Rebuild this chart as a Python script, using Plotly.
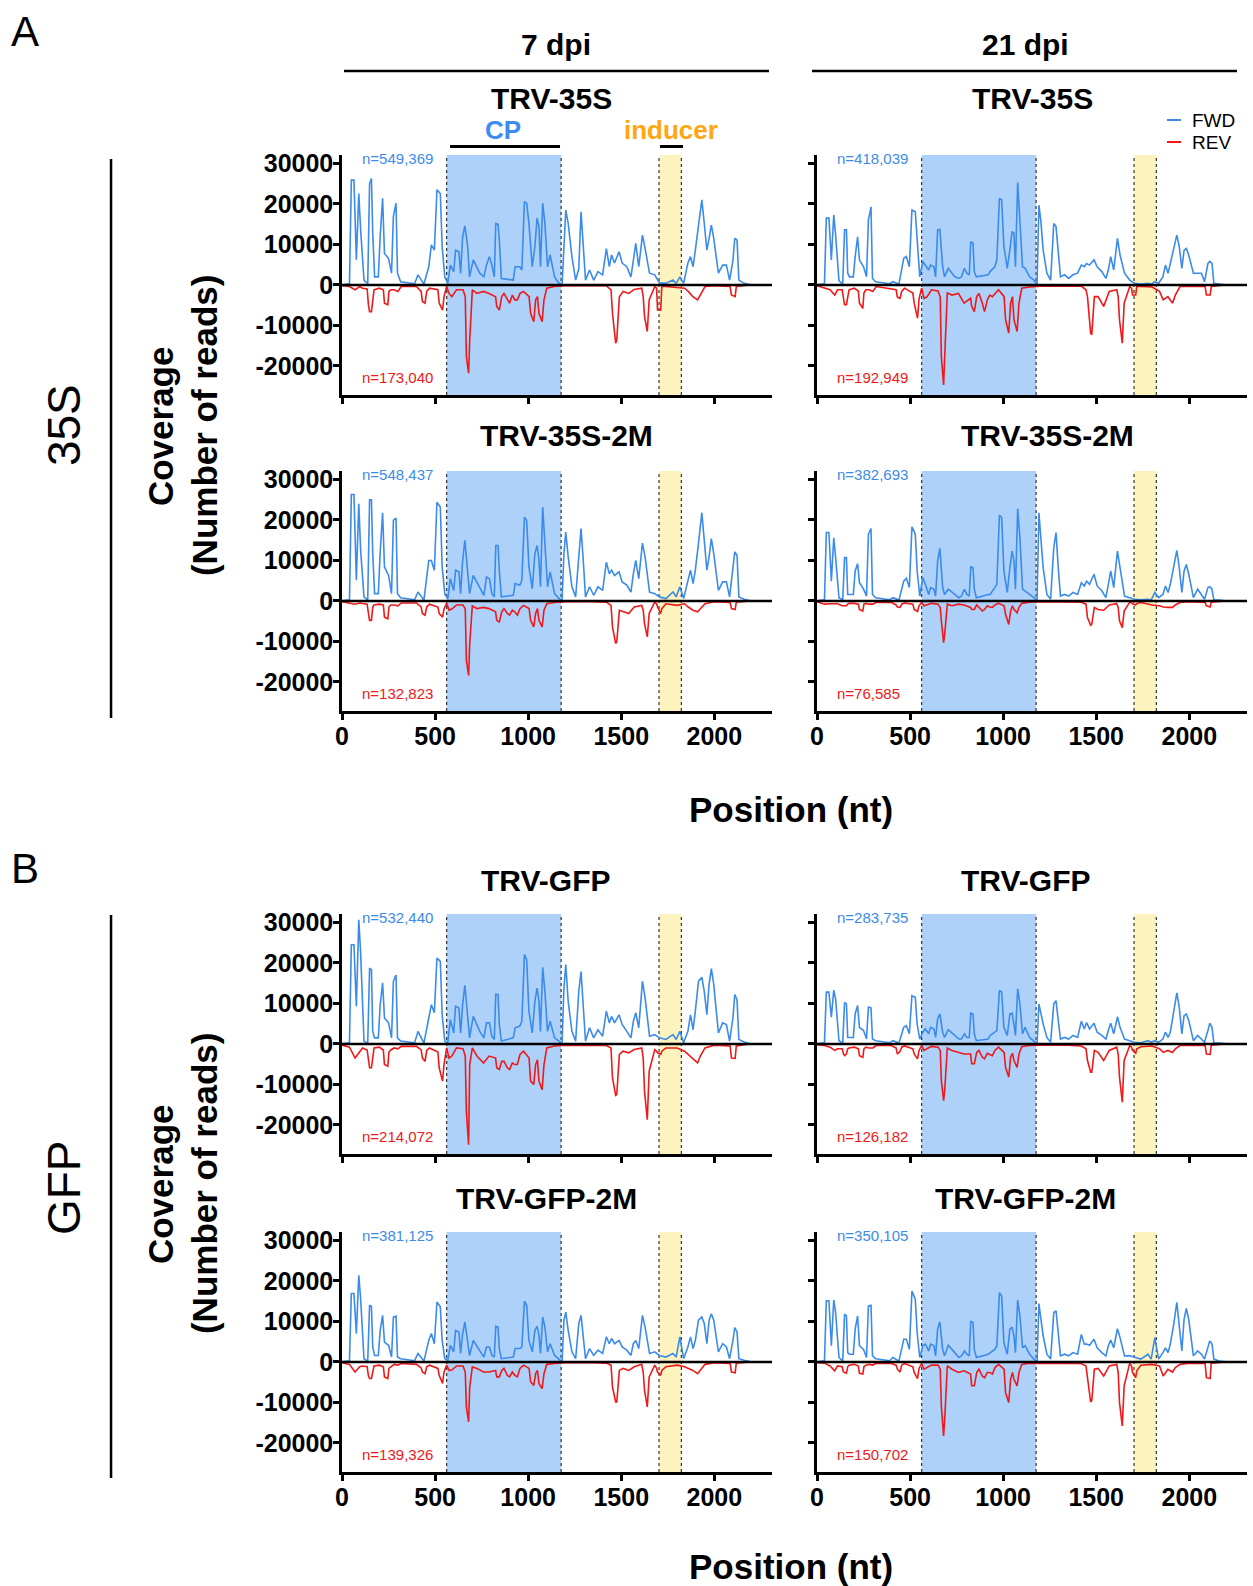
import plotly.graph_objects as go

W, H = 1253, 1586

# ---------------- data: coverage in thousands of reads ----------------
# forward-strand positions (nt) shared by all FWD series
F_POS = [0, 40, 50, 64, 77, 90, 100, 118, 138, 148,
         158, 165, 175, 195, 205, 218, 228, 250, 266, 276,
         290, 298, 315, 390, 408, 440, 466, 480, 496, 510,
         528, 538, 552, 568, 582, 600, 610, 628, 637, 648,
         660, 675, 685, 705, 740, 762, 776, 792, 805, 818,
         826, 838, 845, 856, 920, 930, 955, 966, 980, 992,
         1004, 1022, 1036, 1048, 1058, 1066, 1078, 1090, 1104, 1118,
         1142, 1165, 1182, 1192, 1202, 1215, 1235, 1255, 1272, 1284,
         1296, 1308, 1330, 1352, 1375, 1400, 1420, 1436, 1448, 1464,
         1488, 1505, 1530, 1552, 1565, 1578, 1594, 1614, 1628, 1652,
         1680, 1705, 1740, 1778, 1795, 1815, 1835, 1858, 1872, 1886,
         1898, 1915, 1933, 1946, 1960, 1972, 1984, 1997, 2022, 2045,
         2065, 2082, 2100, 2110, 2122, 2132, 2160, 2200, 2300]

FWD_35S_7DPI = [0, 0.3, 25.9, 25.9, 6.2, 22.6, 13.6, 1.2, 0.3, 25.0,
                26.3, 12.8, 2.0, 2.0, 12.0, 21.4, 7.8, 6.5, 2.9, 17.0,
                20.2, 2.9, 0.8, 0.3, 2.5, 0.2, 4.5, 9.9, 8.6, 23.5,
                22.6, 9.5, 2.0, 0.4, 4.9, 3.3, 8.6, 8.2, 2.9, 11.9,
                14.6, 9.5, 2.0, 6.2, 2.9, 2.0, 4.9, 7.0, 4.9, 2.0,
                15.2, 15.0, 11.1, 1.6, 1.2, 4.5, 4.5, 3.7, 20.6, 20.2,
                15.2, 4.5, 9.5, 16.5, 14.4, 4.5, 20.2, 15.2, 4.5, 7.4,
                2.0, 0.4, 0, 8.0, 18.5, 15.2, 7.0, 1.2, 4.0, 18.1,
                9.5, 1.2, 3.7, 1.2, 3.3, 2.5, 9.0, 4.5, 7.4, 5.4,
                8.2, 5.4, 4.5, 2.0, 6.0, 10.3, 4.5, 12.3, 9.0, 2.9,
                2.5, 0.5, 0.4, 1.2, 0.4, 2.0, 0.4, 5.4, 7.0, 4.5,
                8.6, 14.0, 21.0, 15.2, 8.6, 11.5, 14.8, 11.5, 2.9, 4.9,
                4.9, 1.2, 6.0, 11.5, 11.1, 1.2, 0.4, 0, 0]

FWD_35S_21DPI = [0, 0.3, 16.5, 16.5, 6.2, 17.3, 12.3, 1.0, 0.2, 13.6,
                 13.6, 2.9, 2.0, 2.0, 7.0, 11.9, 6.2, 4.5, 2.0, 16.0,
                 19.3, 1.6, 0.8, 0.3, 0.8, 0.2, 6.6, 7.0, 4.5, 18.5,
                 18.1, 11.0, 2.0, 5.8, 4.9, 3.7, 4.9, 4.5, 2.0, 13.6,
                 13.7, 4.5, 2.0, 4.1, 2.0, 1.6, 2.0, 4.1, 2.9, 2.5,
                 10.7, 10.3, 3.3, 2.0, 2.5, 3.3, 4.5, 6.2, 21.4, 21.0,
                 9.5, 4.1, 8.6, 13.2, 12.8, 4.5, 25.3, 15.2, 4.5, 4.1,
                 2.0, 1.2, 0, 19.7, 16.0, 8.6, 2.9, 1.2, 15.2, 14.4,
                 8.6, 2.0, 2.5, 1.6, 2.5, 2.9, 4.9, 4.5, 5.3, 4.9,
                 6.2, 4.5, 3.3, 1.6, 3.7, 7.0, 3.7, 11.5, 7.4, 2.9,
                 1.2, 0.4, 0.2, 0.4, 0.2, 0.8, 0.4, 2.0, 4.9, 2.9,
                 5.3, 8.6, 12.3, 9.5, 4.1, 8.6, 9.0, 7.4, 2.9, 2.9,
                 2.9, 0.8, 5.3, 5.8, 5.3, 0.4, 0.2, 0, 0]

FWD_35S2M_7DPI = [0, 0.3, 26.3, 26.3, 5.1, 24.0, 12.5, 1.0, 0.2, 25.0,
                  25.0, 11.7, 1.8, 1.8, 12.0, 21.8, 8.4, 6.3, 1.8, 19.9,
                  20.5, 1.8, 0.8, 0.3, 2.2, 0.2, 10.0, 10.0, 7.6, 24.4,
                  23.2, 8.4, 1.8, 0.5, 5.5, 2.6, 7.6, 7.2, 1.8, 10.0,
                  15.0, 6.7, 1.8, 6.3, 3.5, 1.4, 5.9, 5.5, 1.8, 1.0,
                  13.7, 13.7, 7.6, 1.0, 1.4, 4.3, 3.9, 5.1, 20.7, 19.9,
                  8.4, 3.0, 11.7, 13.7, 10.0, 3.5, 23.2, 14.2, 3.5, 7.2,
                  1.8, 0.6, 0, 11.7, 17.0, 10.9, 3.5, 1.0, 10.0, 17.9,
                  10.0, 1.0, 3.5, 1.4, 3.5, 2.6, 9.6, 6.7, 7.6, 6.3,
                  7.2, 4.7, 3.9, 2.2, 6.7, 10.0, 5.5, 14.3, 10.9, 2.2,
                  1.8, 1.0, 0.6, 2.2, 1.0, 3.5, 0.6, 5.1, 7.6, 4.3,
                  7.6, 14.2, 21.8, 15.0, 7.6, 10.9, 15.4, 11.7, 2.6, 4.7,
                  4.7, 1.0, 7.6, 12.1, 11.3, 1.0, 0.4, 0, 0]

FWD_35S2M_21DPI = [0, 0.3, 16.9, 16.9, 4.9, 15.6, 10.7, 0.8, 0.2, 10.7,
                   10.7, 1.6, 1.6, 1.6, 7.4, 9.2, 4.5, 2.9, 1.2, 16.5,
                   17.9, 1.6, 0.8, 0.3, 0.8, 0.2, 4.9, 5.6, 3.3, 18.3,
                   16.5, 7.4, 1.2, 5.8, 4.1, 1.6, 3.3, 2.9, 1.2, 9.9,
                   13.0, 3.3, 1.6, 2.9, 1.6, 0.8, 1.2, 2.9, 1.6, 1.2,
                   8.4, 8.2, 2.9, 0.8, 1.6, 1.6, 3.3, 4.1, 21.2, 20.6,
                   7.4, 2.1, 8.2, 12.3, 9.9, 2.9, 22.8, 15.6, 2.9, 2.5,
                   1.6, 0.8, 0, 21.8, 16.5, 8.2, 1.6, 0.4, 13.2, 16.9,
                   8.2, 1.2, 1.6, 1.2, 2.1, 1.6, 4.5, 3.7, 4.9, 4.1,
                   6.6, 3.7, 2.5, 0.8, 4.1, 7.4, 3.3, 12.3, 8.2, 1.2,
                   0.8, 0.4, 0.3, 0.4, 0.2, 2.1, 0.8, 1.6, 3.7, 2.1,
                   4.1, 8.2, 12.5, 8.2, 2.1, 7.4, 9.0, 6.6, 0.8, 2.9,
                   1.6, 0.4, 3.3, 3.5, 2.9, 0.2, 0.2, 0, 0]

FWD_GFP_7DPI = [0, 0.3, 24.5, 24.5, 9.3, 30.7, 22.5, 0.7, 0.2, 18.6,
                18.4, 3.1, 1.5, 1.5, 9.7, 15.1, 6.4, 5.2, 1.5, 15.5,
                17.0, 1.5, 0.7, 0.3, 3.1, 0.2, 6.4, 9.7, 7.7, 21.2,
                20.4, 7.2, 0.7, 0.3, 6.0, 2.7, 9.3, 8.9, 2.7, 9.7,
                14.5, 6.4, 1.5, 6.8, 3.1, 1.5, 5.2, 5.2, 1.9, 1.1,
                12.3, 12.2, 4.8, 0.7, 1.5, 4.0, 4.4, 5.6, 22.1, 20.8,
                8.1, 2.7, 10.5, 13.8, 10.5, 3.1, 18.9, 13.0, 3.1, 5.6,
                1.5, 0.7, 0, 13.8, 19.6, 10.5, 3.1, 0.7, 13.0, 17.9,
                9.7, 0.7, 4.0, 1.5, 3.5, 1.9, 8.1, 5.2, 6.8, 5.2,
                7.2, 4.8, 3.1, 1.5, 5.6, 7.7, 4.0, 15.5, 11.4, 1.9,
                2.3, 1.5, 1.1, 2.3, 1.1, 3.1, 0.3, 3.1, 7.2, 3.5,
                8.1, 15.5, 16.5, 13.0, 7.2, 14.7, 18.6, 14.7, 2.7, 5.2,
                4.8, 0.7, 6.4, 12.2, 10.9, 1.1, 0.5, 0, 0]

FWD_GFP_21DPI = [0, 0.3, 12.8, 12.8, 6.6, 13.3, 11.1, 0.8, 0.2, 10.3,
                 9.9, 1.6, 1.6, 1.6, 7.4, 9.5, 4.1, 3.3, 1.2, 9.1,
                 8.9, 1.2, 0.8, 0.3, 0.8, 0.2, 4.1, 4.5, 2.5, 11.9,
                 11.5, 4.9, 1.2, 2.9, 3.7, 2.5, 4.1, 3.7, 1.6, 6.2,
                 7.4, 2.9, 1.6, 3.5, 2.1, 1.2, 1.2, 2.5, 1.6, 1.6,
                 7.6, 7.4, 2.5, 0.8, 1.2, 2.1, 2.9, 3.3, 13.2, 12.8,
                 4.1, 2.1, 7.4, 7.6, 4.9, 2.1, 13.6, 9.9, 2.5, 4.1,
                 1.6, 0.8, 0, 9.9, 7.4, 4.9, 1.6, 0.4, 9.9, 10.7,
                 5.8, 1.2, 1.6, 1.2, 2.1, 1.6, 5.6, 3.7, 5.3, 3.7,
                 5.1, 2.9, 2.1, 1.2, 3.3, 5.1, 2.5, 6.7, 4.1, 1.2,
                 0.8, 0.4, 0.3, 0.8, 0.4, 0.8, 0.4, 1.2, 2.9, 1.6,
                 2.9, 7.4, 12.6, 9.1, 2.5, 7.0, 7.4, 5.8, 0.8, 2.1,
                 1.2, 0.4, 3.3, 5.1, 4.1, 0.2, 0.2, 0, 0]

FWD_GFP2M_7DPI = [0, 0.3, 16.9, 16.9, 7.0, 21.4, 15.6, 0.8, 0.2, 14.0,
                  13.7, 3.7, 1.6, 1.6, 7.8, 11.5, 4.9, 4.1, 1.2, 11.1,
                  11.3, 1.2, 0.8, 0.3, 2.1, 0.2, 5.3, 7.0, 4.5, 14.8,
                  13.6, 5.3, 0.8, 0.4, 4.1, 2.5, 7.8, 7.4, 2.1, 7.0,
                  9.9, 4.9, 1.6, 5.3, 2.9, 1.2, 3.7, 3.7, 1.6, 1.2,
                  8.8, 8.6, 3.3, 0.8, 1.2, 3.3, 3.3, 3.7, 15.0, 14.0,
                  5.3, 2.5, 7.8, 8.8, 6.6, 2.1, 11.1, 8.6, 2.5, 4.5,
                  1.6, 0.8, 0, 10.3, 12.3, 7.8, 2.5, 0.8, 9.5, 11.5,
                  6.2, 0.8, 3.3, 1.6, 2.9, 2.1, 6.2, 4.5, 5.8, 4.5,
                  5.3, 3.7, 2.9, 1.6, 4.5, 5.3, 3.3, 11.5, 8.6, 2.1,
                  2.5, 1.6, 1.2, 2.1, 1.2, 6.2, 0.8, 3.7, 6.2, 3.3,
                  5.3, 10.3, 11.1, 9.5, 4.5, 10.3, 11.9, 10.3, 2.5, 4.5,
                  3.7, 0.8, 5.3, 8.5, 7.4, 0.8, 0.4, 0, 0]

FWD_GFP2M_21DPI = [0, 0.3, 15.1, 15.1, 4.0, 15.3, 12.2, 1.1, 0.2, 11.8,
                   11.4, 2.3, 1.9, 1.9, 8.1, 11.4, 4.0, 3.1, 1.1, 13.8,
                   14.0, 1.5, 0.8, 0.3, 1.1, 0.2, 5.6, 5.6, 3.1, 17.5,
                   15.5, 7.2, 1.1, 4.0, 4.4, 2.7, 4.4, 4.0, 1.5, 8.1,
                   9.9, 3.1, 1.5, 4.1, 2.3, 1.1, 1.5, 2.7, 1.9, 1.5,
                   10.1, 9.7, 3.1, 1.1, 1.9, 2.3, 3.1, 4.0, 17.1, 16.3,
                   4.8, 1.9, 8.1, 8.6, 6.4, 2.3, 15.3, 11.4, 3.5, 4.0,
                   1.9, 0.7, 0, 14.4, 11.4, 6.4, 1.9, 0.7, 12.2, 12.6,
                   7.2, 1.5, 1.9, 1.5, 2.3, 1.9, 6.8, 4.4, 4.4, 4.1,
                   5.6, 3.5, 2.3, 1.5, 4.0, 5.4, 3.5, 8.2, 6.0, 1.5,
                   1.5, 1.1, 0.7, 1.9, 0.7, 6.0, 0.7, 2.3, 3.5, 2.3,
                   4.4, 8.9, 14.7, 8.9, 2.7, 10.5, 13.2, 10.5, 1.5, 2.7,
                   1.9, 0.7, 4.0, 5.2, 4.4, 0.7, 0.2, 0, 0]

# reverse-strand positions (nt) shared by all REV series
R_POS = [0, 40, 70, 95, 110, 135, 142, 148, 158, 165,
         172, 200, 222, 228, 246, 252, 262, 280, 300, 318,
         400, 425, 432, 446, 455, 470, 515, 522, 540, 548,
         562, 575, 590, 615, 650, 662, 668, 680, 686, 700,
         725, 760, 790, 825, 831, 845, 858, 870, 888, 900,
         915, 928, 942, 956, 975, 1005, 1013, 1030, 1040, 1050,
         1058, 1075, 1085, 1100, 1140, 1200, 1350, 1420, 1445, 1453,
         1470, 1476, 1490, 1510, 1540, 1570, 1610, 1618, 1625, 1640,
         1650, 1680, 1690, 1695, 1712, 1718, 1740, 1800, 1840, 1860,
         1885, 1910, 1925, 1950, 2000, 2085, 2092, 2112, 2118, 2150,
         2190]

# reverse-strand read counts (thousands), drawn below zero
REV_35S_7DPI = [0.2, 0.4, 1.2, 0.4, 0.8, 1.0, 5.0, 6.6, 6.6, 3.0,
                1.2, 0.8, 1.2, 4.5, 4.9, 1.6, 1.2, 1.2, 1.6, 0.4,
                0.4, 1.6, 4.1, 4.5, 1.6, 0.8, 1.2, 4.5, 6.2, 2.9,
                0.4, 2.1, 2.9, 1.2, 1.2, 2.9, 17.7, 21.8, 13.6, 1.2,
                2.1, 1.6, 2.1, 2.9, 5.3, 6.2, 2.9, 2.1, 3.7, 4.5,
                2.5, 3.7, 3.7, 2.1, 1.6, 2.9, 7.0, 9.1, 3.7, 2.9,
                7.0, 9.1, 3.7, 0.8, 0.4, 0.2, 0.2, 0.2, 1.2, 7.0,
                14.4, 13.6, 2.9, 1.6, 2.1, 1.1, 0.8, 2.9, 7.8, 11.5,
                3.7, 0.4, 0.8, 6.2, 6.2, 0.4, 0.4, 0.6, 0.8, 1.6,
                2.9, 3.7, 2.5, 0.4, 0.2, 0.4, 2.5, 2.9, 0.4, 0.2,
                0]

REV_35S_21DPI = [0.2, 0.8, 1.2, 2.5, 1.2, 1.2, 3.5, 4.9, 4.9, 2.5,
                 1.2, 0.8, 1.5, 4.5, 5.8, 2.0, 1.2, 1.2, 1.6, 0.4,
                 1.0, 1.2, 3.0, 3.3, 1.6, 0.8, 2.0, 4.5, 8.2, 3.5,
                 0.8, 3.3, 3.0, 1.2, 1.5, 3.0, 17.7, 24.7, 17.7, 2.0,
                 2.5, 2.1, 4.5, 3.3, 5.3, 6.6, 2.9, 2.1, 4.5, 6.6,
                 3.7, 2.5, 2.9, 2.1, 1.2, 2.9, 8.6, 11.9, 4.5, 2.9,
                 8.6, 11.5, 4.5, 0.8, 0.5, 0.3, 0.3, 0.3, 1.2, 2.9,
                 11.9, 12.3, 2.9, 2.9, 5.3, 1.6, 1.2, 2.9, 8.6, 14.4,
                 4.5, 0.4, 0.8, 2.5, 2.5, 0.4, 0.4, 0.5, 1.6, 3.7,
                 2.9, 4.5, 2.5, 0.4, 0.3, 0.4, 2.5, 2.5, 0.4, 0.2,
                 0]

REV_35S2M_7DPI = [0.2, 0.5, 0.8, 0.5, 0.6, 0.8, 3.1, 4.8, 4.8, 1.5,
                  1.0, 0.8, 1.0, 4.0, 4.4, 1.5, 1.0, 1.0, 1.2, 0.5,
                  0.5, 1.5, 3.1, 3.5, 1.5, 0.8, 1.5, 3.1, 4.0, 2.0,
                  0.5, 2.3, 2.0, 1.0, 1.0, 2.0, 14.7, 18.4, 10.5, 1.2,
                  1.9, 1.6, 1.9, 2.7, 4.8, 5.2, 2.7, 1.9, 3.1, 3.5,
                  2.3, 2.7, 3.5, 1.9, 1.1, 1.9, 4.8, 6.4, 3.1, 1.9,
                  4.8, 6.4, 2.3, 0.7, 0.4, 0.2, 0.2, 0.3, 1.1, 6.4,
                  10.5, 10.1, 2.3, 2.7, 3.1, 1.5, 1.1, 2.3, 5.6, 8.9,
                  3.1, 0.3, 0.7, 1.5, 3.1, 1.9, 0.7, 1.1, 0.7, 1.5,
                  2.3, 2.7, 1.9, 0.7, 0.2, 0.4, 1.9, 2.1, 0.3, 0.2,
                  0]

REV_35S2M_21DPI = [0.2, 0.8, 0.7, 0.8, 0.7, 1.2, 1.2, 1.2, 1.2, 0.8,
                   0.6, 0.6, 0.8, 2.1, 2.5, 0.8, 0.6, 0.8, 0.8, 0.4,
                   0.4, 1.0, 1.5, 1.6, 0.8, 0.5, 0.8, 2.1, 2.6, 1.2,
                   0.4, 1.2, 1.0, 0.6, 0.8, 1.6, 4.9, 10.3, 8.2, 0.8,
                   1.2, 0.8, 1.0, 1.6, 2.1, 2.1, 1.0, 1.6, 2.5, 2.1,
                   1.2, 1.5, 1.6, 1.0, 0.6, 1.2, 3.3, 5.8, 2.5, 1.2,
                   2.1, 2.9, 1.6, 0.6, 0.3, 0.2, 0.2, 0.3, 0.8, 4.1,
                   6.0, 5.8, 1.6, 2.1, 2.3, 1.0, 0.7, 1.6, 4.9, 6.6,
                   2.5, 0.3, 0.5, 0.7, 1.0, 0.6, 0.4, 1.0, 1.2, 1.5,
                   1.6, 1.6, 1.0, 0.4, 0.2, 0.4, 1.2, 1.5, 0.3, 0.2,
                   0]

REV_GFP_7DPI = [0.3, 0.8, 3.5, 2.0, 1.0, 1.5, 4.0, 5.9, 5.9, 2.5,
                1.0, 0.8, 1.5, 5.1, 5.5, 2.0, 1.5, 1.0, 1.2, 0.6,
                0.6, 1.5, 3.5, 4.3, 1.6, 1.0, 2.0, 5.9, 9.2, 5.1,
                1.0, 3.5, 3.0, 1.0, 1.2, 3.0, 16.6, 24.9, 5.1, 1.0,
                3.0, 4.7, 3.0, 3.5, 5.9, 6.3, 4.3, 4.3, 5.9, 6.3,
                4.7, 5.1, 5.1, 2.6, 1.8, 3.5, 9.2, 10.0, 5.1, 3.9,
                9.2, 11.3, 5.1, 1.0, 0.5, 0.3, 0.3, 0.4, 1.0, 8.4,
                12.7, 12.5, 2.6, 1.8, 2.2, 1.4, 1.0, 3.5, 11.7, 18.7,
                6.7, 1.4, 1.8, 2.2, 2.6, 1.8, 1.0, 1.0, 1.8, 2.6,
                3.5, 4.7, 3.0, 1.0, 0.3, 0.5, 3.5, 3.6, 0.5, 0.3,
                0]

REV_GFP_21DPI = [0.2, 0.4, 0.8, 1.6, 1.2, 1.2, 2.5, 2.9, 2.5, 1.2,
                 1.0, 0.8, 1.2, 2.9, 3.3, 1.2, 0.8, 1.0, 1.0, 0.4,
                 0.4, 1.0, 2.5, 1.8, 0.8, 0.5, 1.2, 2.5, 3.7, 1.6,
                 0.4, 1.6, 1.2, 0.6, 0.8, 1.6, 9.1, 14.0, 11.5, 1.0,
                 1.6, 2.1, 2.5, 2.5, 4.9, 4.9, 2.1, 1.6, 3.3, 3.7,
                 2.3, 2.6, 2.9, 1.6, 0.8, 2.1, 5.8, 8.2, 3.3, 2.3,
                 4.1, 5.8, 2.5, 0.7, 0.4, 0.3, 0.3, 0.5, 1.2, 4.1,
                 7.0, 7.0, 1.6, 2.1, 4.1, 1.6, 0.8, 2.5, 8.2, 14.4,
                 4.1, 0.4, 0.8, 1.6, 2.3, 1.2, 0.7, 0.5, 1.2, 2.1,
                 1.6, 2.1, 1.2, 0.4, 0.3, 0.4, 2.5, 2.6, 0.3, 0.2,
                 0]

REV_GFP2M_7DPI = [0.2, 0.6, 2.5, 1.2, 1.0, 1.2, 3.5, 4.1, 4.1, 2.0,
                  1.0, 0.8, 1.2, 3.7, 4.1, 1.6, 1.2, 0.6, 0.8, 0.4,
                  0.6, 1.5, 2.5, 2.9, 1.2, 0.8, 1.6, 3.3, 5.3, 2.5,
                  0.8, 2.1, 2.0, 1.0, 1.0, 2.5, 11.1, 14.8, 6.2, 1.2,
                  1.6, 2.5, 2.5, 2.1, 3.7, 3.7, 2.1, 1.6, 3.3, 3.7,
                  2.5, 3.3, 3.7, 1.6, 0.8, 1.6, 4.9, 5.8, 2.9, 2.1,
                  5.3, 6.6, 2.9, 0.6, 0.4, 0.2, 0.2, 0.3, 0.8, 6.2,
                  9.9, 9.9, 2.1, 1.6, 2.1, 1.2, 0.6, 2.5, 7.0, 11.1,
                  3.7, 0.8, 1.6, 2.5, 3.3, 2.1, 1.2, 0.8, 1.2, 1.6,
                  2.1, 2.9, 2.1, 0.6, 0.2, 0.4, 2.5, 2.7, 0.3, 0.2,
                  0]

REV_GFP2M_21DPI = [0.2, 0.3, 1.0, 2.2, 1.0, 1.2, 2.5, 2.6, 2.8, 1.2,
                   0.8, 0.6, 1.0, 2.8, 3.0, 1.2, 0.8, 0.6, 0.8, 0.3,
                   0.4, 0.8, 1.8, 2.5, 0.8, 0.4, 1.2, 2.6, 4.1, 1.6,
                   0.4, 1.8, 1.5, 0.8, 0.8, 1.8, 10.9, 18.3, 14.2, 1.0,
                   1.8, 2.6, 2.2, 3.0, 5.9, 5.9, 2.6, 1.8, 3.5, 3.9,
                   2.6, 2.6, 3.0, 1.4, 0.6, 1.8, 7.6, 10.0, 4.3, 2.6,
                   4.3, 5.9, 2.6, 0.6, 0.3, 0.3, 0.3, 0.4, 1.0, 4.3,
                   9.9, 9.6, 1.8, 1.6, 3.5, 1.0, 0.6, 2.6, 10.0, 15.8,
                   5.9, 0.3, 1.0, 2.6, 3.9, 2.2, 0.8, 0.6, 1.0, 3.5,
                   1.8, 2.5, 1.4, 0.6, 0.3, 0.4, 3.9, 4.1, 0.3, 0.2,
                   0]

PANEL_TITLES = ["TRV-35S", "TRV-35S", "TRV-35S-2M", "TRV-35S-2M",
                "TRV-GFP", "TRV-GFP", "TRV-GFP-2M", "TRV-GFP-2M"]
N_FWD = ["549,369", "418,039", "548,437", "382,693",
         "532,440", "283,735", "381,125", "350,105"]
N_REV = ["173,040", "192,949", "132,823", "76,585",
         "214,072", "126,182", "139,326", "150,702"]
X_TICKS = [0, 500, 1000, 1500, 2000]
Y_TICKS = [-20000, -10000, 0, 10000, 20000, 30000]
CP_REGION = [562, 1177]
INDUCER_REGION = [1703, 1823]

FWD = [FWD_35S_7DPI, FWD_35S_21DPI, FWD_35S2M_7DPI, FWD_35S2M_21DPI,
       FWD_GFP_7DPI, FWD_GFP_21DPI, FWD_GFP2M_7DPI, FWD_GFP2M_21DPI]
REV = [REV_35S_7DPI, REV_35S_21DPI, REV_35S2M_7DPI, REV_35S2M_21DPI,
       REV_GFP_7DPI, REV_GFP_21DPI, REV_GFP2M_7DPI, REV_GFP2M_21DPI]

# ---------------- styling / geometry ----------------
BLUE = "#3B8BEB"
RED = "#F01818"
CP_FILL = "#AED1FA"
IND_FILL = "#FDF3BF"
FONT = "Arial, Liberation Sans, Helvetica, sans-serif"
COL_PX = [(342, 772), (817, 1247)]
ROW_PX = [(155, 395), (471, 711), (914, 1154), (1232, 1472)]
X_RANGE = [0, 2310]
Y_RANGE = [-27200, 32100]
# small correction for the page offset observed in the capture
DX, DY = 7.0, 6.0


def fx(p):
    return (p * (W + DX) / W - DX) / W


def fy(p):
    return 1 - (p * (H + DY) / H - DY) / H


fig = go.Figure()
layout = {}
shapes = []
annotations = []
tickfont = dict(family=FONT, size=25, color="black", weight="bold")

for i in range(8):
    r, c = divmod(i, 2)
    sfx = "" if i == 0 else str(i + 1)
    xa, ya = "x" + sfx, "y" + sfx
    fig.add_trace(go.Scatter(x=F_POS, y=[v * 1000 for v in FWD[i]], xaxis=xa, yaxis=ya,
                             mode="lines", line=dict(color=BLUE, width=1.6),
                             showlegend=False, hoverinfo="skip"))
    fig.add_trace(go.Scatter(x=R_POS, y=[-v * 1000 for v in REV[i]], xaxis=xa, yaxis=ya,
                             mode="lines", line=dict(color=RED, width=1.6),
                             showlegend=False, hoverinfo="skip"))
    c0, c1 = COL_PX[c]
    r0, r1 = ROW_PX[r]
    layout["xaxis" + sfx] = dict(domain=[fx(c0), fx(c1)], range=X_RANGE, anchor=ya,
                                 showline=True, linecolor="black", linewidth=2.5,
                                 ticks="outside", ticklen=6, tickwidth=2.5, tickcolor="black",
                                 tickvals=X_TICKS, showticklabels=(r in (1, 3)),
                                 ticklabelstandoff=-5,
                                 tickfont=tickfont, showgrid=False, zeroline=False,
                                 fixedrange=True)
    layout["yaxis" + sfx] = dict(domain=[fy(r1), fy(r0)], range=Y_RANGE, anchor=xa,
                                 showline=True, linecolor="black", linewidth=2.5,
                                 ticks="outside", ticklen=6, tickwidth=2.5, tickcolor="black",
                                 tickvals=Y_TICKS, ticktext=[str(v) for v in Y_TICKS],
                                 showticklabels=(c == 0), tickfont=tickfont,
                                 ticklabelstandoff=-5,
                                 showgrid=False, zeroline=False, fixedrange=True)
    ydom = ya + " domain"
    for (a, b), fill in ((CP_REGION, CP_FILL), (INDUCER_REGION, IND_FILL)):
        shapes.append(dict(type="rect", xref=xa, yref=ydom, x0=a, x1=b, y0=0, y1=1,
                           fillcolor=fill, line=dict(width=0), layer="below"))
        for e in (a, b):
            shapes.append(dict(type="line", xref=xa, yref=ydom, x0=e, x1=e, y0=0, y1=1,
                               line=dict(color="#333333", width=1.2, dash="dot"), layer="below"))
    shapes.append(dict(type="line", xref=xa + " domain", yref=ya, x0=0, x1=1, y0=0, y1=0,
                       line=dict(color="black", width=2.5), layer="above"))
    annotations.append(dict(text="n=" + N_FWD[i], x=fx(c0 + 18), y=fy(r0 + 3), xref="paper",
                            yref="paper", xanchor="left", yanchor="middle", showarrow=False,
                            font=dict(family=FONT, size=15, color=BLUE)))
    annotations.append(dict(text="n=" + N_REV[i], x=fx(c0 + 18), y=fy(r1 - 18), xref="paper",
                            yref="paper", xanchor="left", yanchor="middle", showarrow=False,
                            font=dict(family=FONT, size=15, color=RED)))

TITLE_PX = [(551, 98), (1032, 98), (566, 435), (1047, 435),
            (545, 880), (1025, 880), (546, 1198), (1025, 1198)]
for t, (x, y) in zip(PANEL_TITLES, TITLE_PX):
    annotations.append(dict(text=t, x=fx(x), y=fy(y), xref="paper", yref="paper",
                            showarrow=False, xanchor="center", yanchor="middle",
                            font=dict(family=FONT, size=30, color="black", weight="bold")))


def txt(t, x, y, size, bold=False, color="black", angle=0, xanchor="center"):
    annotations.append(dict(text=t, x=fx(x), y=fy(y), xref="paper", yref="paper",
                            showarrow=False, xanchor=xanchor, yanchor="middle", textangle=angle,
                            font=dict(family=FONT, size=size, color=color,
                                      weight="bold" if bold else "normal")))


def pline(x0, y0, x1, y1, width=2.5, color="black"):
    shapes.append(dict(type="line", xref="paper", yref="paper", x0=fx(x0), x1=fx(x1),
                       y0=fy(y0), y1=fy(y1), line=dict(color=color, width=width)))


txt("A", 25, 31, 42)
txt("B", 25, 868, 42)
txt("7 dpi", 556, 44, 30, bold=True)
txt("21 dpi", 1025, 44, 30, bold=True)
pline(344, 71, 769, 71)
pline(812, 71, 1237, 71)
txt("CP", 503, 130, 26, bold=True, color="#3D8BF0")
txt("inducer", 671, 130, 26, bold=True, color="#FFA612")
pline(450, 146.5, 560, 146.5, width=3)
pline(660, 146.5, 683, 146.5, width=3)
pline(1167, 120, 1181, 120, width=2, color=BLUE)
pline(1167, 142, 1181, 142, width=2, color=RED)
txt("FWD", 1190, 120, 19, xanchor="left")
txt("REV", 1190, 142, 19, xanchor="left")
txt("35S", 64, 425, 46, angle=-90)
txt("GFP", 64, 1188, 46, angle=-90)
pline(111, 159, 111, 718)
pline(111, 915, 111, 1478)
for yc in (426, 1184):
    txt("Coverage", 160, yc, 35, bold=True, angle=-90)
    txt("(Number of reads)", 204, yc, 35, bold=True, angle=-90)
txt("Position (nt)", 791, 809, 35, bold=True)
txt("Position (nt)", 791, 1566, 35, bold=True)

fig.update_layout(width=W, height=H, margin=dict(l=0, r=0, t=0, b=0, pad=0),
                  paper_bgcolor="white", plot_bgcolor="rgba(0,0,0,0)",
                  shapes=shapes, annotations=annotations, showlegend=False, **layout)
fig.write_html("out.html", config={"displayModeBar": False},
               post_script="document.documentElement.style.margin='0';"
                           "document.body.style.margin='0';"
                           "document.body.style.padding='0';"
                           "document.documentElement.style.overflow='hidden';"
                           "document.body.style.overflow='hidden';")
